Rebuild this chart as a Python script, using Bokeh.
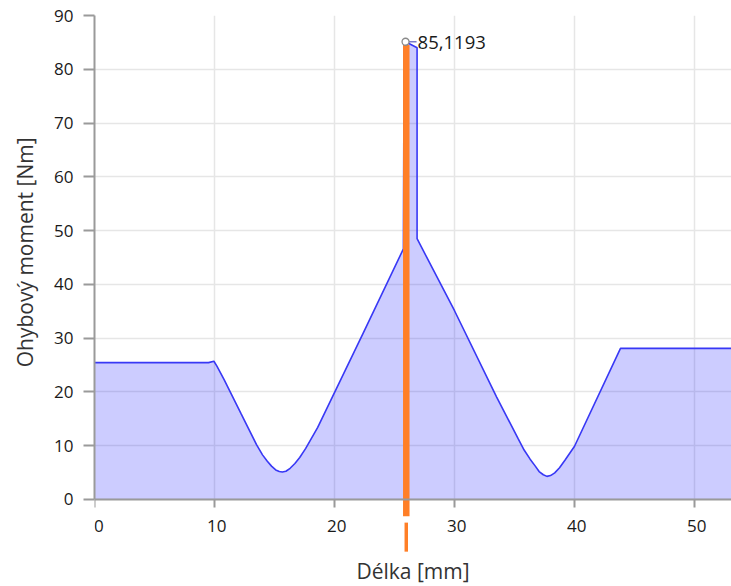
from bokeh.plotting import figure
from bokeh.models import ColumnDataSource, Range1d, Title
from bokeh.core.properties import value
from bokeh.embed import file_html
from bokeh.resources import INLINE

# ---- data ----
curve_x = [0, 9.5, 9.95, 10.2, 10.8, 12.2, 13.5, 14.0, 14.4, 14.75, 15.1, 15.4, 15.65, 15.95,
           16.3, 16.7, 17.1, 17.6, 18.6, 22.4, 25.74,
           25.8, 25.92, 26.88, 26.88, 30.0, 33.5, 35.3, 35.8, 36.3, 36.7, 37.05, 37.4, 37.7,
           38.0, 38.35, 38.75, 39.2, 39.6, 40.0, 43.83, 53.5]
curve_y = [25.45, 25.45, 25.7, 24.8, 22.3, 16.0, 10.2, 8.3, 7.1, 6.2, 5.5, 5.2, 5.1, 5.25,
           5.8, 6.7, 7.8, 9.5, 13.4, 31.0, 46.6,
           85.1193, 85.1193, 84.0, 48.5, 35.1, 19.1, 11.3, 9.2, 7.5, 6.3, 5.2, 4.6, 4.3,
           4.45, 4.95, 5.9, 7.3, 8.6, 9.9, 28.1, 28.1]
x_ticks = [0, 10, 20, 30, 40, 50]
x_tick_labels = ["\u00a0\u00a00", "\u00a010", "\u00a020", "\u00a030", "\u00a040", "\u00a050"]
y_ticks = [0, 10, 20, 30, 40, 50, 60, 70, 80, 90]
peak_x = 25.92
peak_y = 85.1193
peak_label = "85,1193"
cursor_x = 25.98
cursor_top = 84.5
x_label = "Délka [mm]"
y_label = "Ohybový moment [Nm]"

X_START, X_END = 0, 53.08
Y_START, Y_END = -16.18, 90

FONT = "Open Sans"
ORANGE = "#FF7F27"

src = ColumnDataSource(data=dict(x=curve_x, y=curve_y))

p = figure(width=731, height=586, output_backend="svg", toolbar_location=None,
           x_range=Range1d(X_START, X_END), y_range=Range1d(Y_START, Y_END),
           min_border_left=94, min_border_right=0, min_border_top=15, min_border_bottom=0)
p.outline_line_color = None
p.background_fill_color = "white"
p.border_fill_color = "white"

# grid
p.xgrid.ticker = x_ticks
p.ygrid.ticker = y_ticks
p.grid.grid_line_color = "#e6e6e6"
p.grid.grid_line_width = 1.5

# white cover below the x axis (outside the plotting area)
p.quad(left=[X_START], right=[X_END], bottom=[Y_START], top=[0],
       fill_color="white", line_color=None)

# area + line
p.varea(x="x", y1=0, y2="y", source=src, fill_color="#0000FF", fill_alpha=0.2)
p.line(x="x", y="y", source=src, line_color="#3838F5", line_width=1.6)

# cursor bar with its handle below the axis
p.segment(x0=[cursor_x], y0=[-3.1], x1=[cursor_x], y1=[cursor_top],
          line_color=ORANGE, line_width=6.5, line_cap="butt")
p.segment(x0=[cursor_x], y0=[-9.7], x1=[cursor_x], y1=[-4.3],
          line_color=ORANGE, line_width=3.5, line_cap="butt")

# peak marker + label
p.ray(x=[peak_x], y=[peak_y], length=11, length_units="screen", angle=0,
      line_color="#7a7ac8", line_width=1.5)
p.scatter(x=[peak_x], y=[peak_y], size=7, fill_color="white", line_color="#8a8a8a", line_width=1.3)
p.text(x=[peak_x], y=[peak_y], text=[peak_label], x_offset=12, y_offset=1,
       text_baseline="middle", text_align="left",
       text_font=value(FONT), text_font_size="18.5px", text_color="#1a1a1a")

# axes
for ax in (p.xaxis[0], p.yaxis[0]):
    ax.axis_line_color = "#9a9a9a"
    ax.axis_line_width = 2
    ax.major_tick_line_color = "#9a9a9a"
    ax.major_tick_line_width = 2
    ax.major_tick_in = 0
    ax.minor_tick_line_color = None
    ax.major_label_text_font = FONT
    ax.major_label_text_font_size = "17px"
    ax.major_label_text_color = "#1a1a1a"
    ax.axis_label_text_font = FONT
    ax.axis_label_text_font_size = "21px"
    ax.axis_label_text_font_style = "normal"
    ax.axis_label_text_color = "#333333"

p.xaxis.fixed_location = 0
p.xaxis.ticker = x_ticks
p.xaxis.major_label_overrides = dict(zip(x_ticks, x_tick_labels))
p.yaxis.ticker = y_ticks
p.yaxis.bounds = (0, 90)
p.xaxis.axis_label = x_label
p.xaxis.major_tick_out = 8
p.yaxis.major_tick_out = 11
p.xaxis.major_label_standoff = 7
p.yaxis.major_label_standoff = 10
p.xaxis.axis_label_standoff = 16

ylab = Title(text=y_label, align="right", vertical_align="top", offset=122, standoff=21,
             text_font=FONT, text_font_size="21px", text_font_style="normal",
             text_color="#333333")
p.add_layout(ylab, "left")

open("out.html", "w").write(file_html(p, INLINE))
